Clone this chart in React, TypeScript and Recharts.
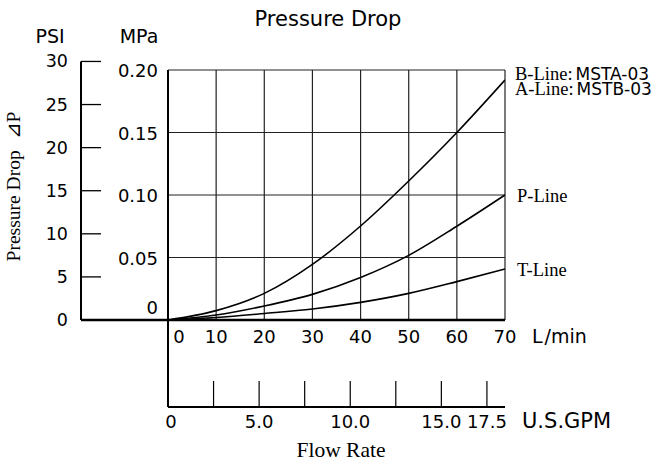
import React from 'react';
import { ComposedChart, Line, XAxis, YAxis, CartesianGrid, ReferenceLine, LabelList } from 'recharts';

// ---- data ----
const flowLpm = [0, 10, 20, 30, 40, 50, 60, 70];
const bLine = [0, 0.0075, 0.0213, 0.0445, 0.0752, 0.1112, 0.15, 0.192];
const pLine = [0, 0.004, 0.0112, 0.0205, 0.034, 0.0517, 0.075, 0.1];
const tLine = [0, 0.002, 0.0052, 0.0088, 0.0141, 0.0213, 0.0307, 0.0408];

const mpaTicks = [0, 0.05, 0.1, 0.15, 0.2];
const psiTicks = [0, 5, 10, 15, 20, 25, 30];
const lpmTicks = [0, 10, 20, 30, 40, 50, 60, 70];
const gpmTicks = [0, 2.5, 5, 7.5, 10, 12.5, 15, 17.5];
const gpmTickLabels = ['0', '', '5.0', '', '10.0', '', '15.0', '17.5'];

const bLabel = [['B-Line:', 'MSTA-03'], ['A-Line:', 'MSTB-03']];
const pLabel = [['P-Line', '']];
const tLabel = [['T-Line', '']];

// unit relations
const MPA_MAX = 0.2;
const PSI_PER_MPA = 145.0377;
const LPM_MAX = 70;
const LPM_PER_GPM = 3.785411784;

// ---- layout ----
const W = 656;
const H = 466;
const PSI_W = 81;
const MPA_W = 87;
const LPM_H = 87;
const GPM_H = 59;
const M_TOP = 70;
const M_RIGHT = 151;
const PLOT_W = W - PSI_W - MPA_W - M_RIGHT;
const PLOT_H = H - M_TOP - LPM_H - GPM_H;
const PSI_AXIS_AT_LPM = -(MPA_W / PLOT_W) * LPM_MAX;
const GPM_AXIS_AT_MPA = -(LPM_H / PLOT_H) * MPA_MAX;

const SANS = 'DejaVu Sans';
const SERIF = 'Liberation Serif';

const data = flowLpm.map((f, i) => ({
  lpm: f,
  gpm: f / LPM_PER_GPM,
  b: bLine[i],
  p: pLine[i],
  t: tLine[i],
}));

const PsiTick = (props: any) => {
  const { x, y, payload } = props;
  return (
    <g>
      <line x1={x} x2={x + 20} y1={y} y2={y} stroke="#000" strokeWidth={1.3} />
      <text x={x - 13} y={y} dy={6} textAnchor="end" fontFamily={SANS} fontSize={17.5} fill="#000">
        {payload.value}
      </text>
    </g>
  );
};

const MpaTick = (props: any) => {
  const { x, y, payload } = props;
  const v = payload.value as number;
  return (
    <text x={x - 10} y={y} dy={v === 0 ? -6 : 7} textAnchor="end" fontFamily={SANS} fontSize={18} fill="#000">
      {v === 0 ? '0' : v.toFixed(2)}
    </text>
  );
};

const LpmTick = (props: any) => {
  const { x, y, payload } = props;
  const v = payload.value as number;
  return (
    <text x={v === 0 ? x + 11 : x} y={y} dy={23} textAnchor="middle" fontFamily={SANS} fontSize={18} fill="#000">
      {v}
    </text>
  );
};

const GpmTick = (props: any) => {
  const { x, y, payload, index } = props;
  const v = payload.value as number;
  return (
    <g>
      {v !== 0 && <line x1={x} x2={x} y1={y} y2={y - 26} stroke="#000" strokeWidth={1.2} />}
      <text x={v === 0 ? x + 3 : x} y={y} dy={21} textAnchor="middle" fontFamily={SANS} fontSize={18} fill="#000">
        {gpmTickLabels[index]}
      </text>
    </g>
  );
};

const makeEndLabel = (lines: string[][], dyFirst: number, dx: number) => (props: any) => {
  const { x, y, index } = props;
  if (index !== data.length - 1) return null;
  return (
    <text x={x + dx} y={y + dyFirst} fontSize={18.5} fontFamily={SERIF} fill="#000">
      {lines.map((ln, i) => (
        <React.Fragment key={i}>
          <tspan x={x + dx} dy={i === 0 ? 0 : 15} fontFamily={SERIF}>{ln[0]}</tspan>
          {ln[1] ? (
            <tspan dx={3} fontFamily={SANS} fontSize={17}>{ln[1]}</tspan>
          ) : null}
        </React.Fragment>
      ))}
    </text>
  );
};

export default function App() {
  return (
    <div style={{ position: 'absolute', left: 0, top: 0, width: W, height: H, background: '#fff' }}>
      <ComposedChart
        width={W}
        height={H}
        data={data}
        margin={{ top: M_TOP, right: M_RIGHT, bottom: 0, left: 0 }}
      >
        <CartesianGrid xAxisId="x1" yAxisId="y1" stroke="#222" strokeWidth={1.2} fill="none" />
        <XAxis
          xAxisId="x1"
          dataKey="lpm"
          type="number"
          domain={[0, LPM_MAX]}
          ticks={lpmTicks}
          interval={0}
          allowDataOverflow
          height={LPM_H}
          tickSize={0}
          tickMargin={0}
          tickLine={false}
          axisLine={{ stroke: '#000', strokeWidth: 2.5 }}
          tick={<LpmTick />}
        />
        <XAxis
          xAxisId="x2"
          dataKey="gpm"
          type="number"
          domain={[0, LPM_MAX / LPM_PER_GPM]}
          ticks={gpmTicks}
          interval={0}
          allowDataOverflow
          height={GPM_H}
          tickSize={0}
          tickMargin={0}
          tickLine={false}
          axisLine={{ stroke: '#000', strokeWidth: 2 }}
          tick={<GpmTick />}
        />
        <YAxis
          yAxisId="y1"
          type="number"
          domain={[0, MPA_MAX]}
          ticks={mpaTicks}
          interval={0}
          allowDataOverflow
          width={MPA_W}
          tickSize={0}
          tickMargin={0}
          tickLine={false}
          axisLine={{ stroke: '#000', strokeWidth: 2 }}
          tick={<MpaTick />}
        />
        <YAxis
          yAxisId="y2"
          type="number"
          domain={[0, MPA_MAX * PSI_PER_MPA]}
          ticks={psiTicks}
          interval={0}
          allowDataOverflow
          width={PSI_W}
          tickSize={0}
          tickMargin={0}
          tickLine={false}
          axisLine={false}
          tick={<PsiTick />}
        />
        <ReferenceLine
          xAxisId="x1"
          yAxisId="y1"
          ifOverflow="visible"
          segment={[{ x: PSI_AXIS_AT_LPM, y: 0 }, { x: 0, y: 0 }]}
          stroke="#000"
          strokeWidth={2.5}
        />
        <ReferenceLine
          xAxisId="x1"
          yAxisId="y2"
          ifOverflow="visible"
          segment={[{ x: PSI_AXIS_AT_LPM, y: 0 }, { x: PSI_AXIS_AT_LPM, y: 30 }]}
          stroke="#000"
          strokeWidth={2}
        />
        <ReferenceLine
          xAxisId="x1"
          yAxisId="y1"
          ifOverflow="visible"
          segment={[{ x: 0, y: 0 }, { x: 0, y: GPM_AXIS_AT_MPA }]}
          stroke="#000"
          strokeWidth={2}
        />
        <Line xAxisId="x1" yAxisId="y1" dataKey="b" type="monotone" stroke="#000" strokeWidth={1.6} dot={false} isAnimationActive={false}>
          <LabelList dataKey="b" content={makeEndLabel(bLabel, 0, 10)} />
        </Line>
        <Line xAxisId="x1" yAxisId="y1" dataKey="p" type="monotone" stroke="#000" strokeWidth={1.6} dot={false} isAnimationActive={false}>
          <LabelList dataKey="p" content={makeEndLabel(pLabel, 7, 12)} />
        </Line>
        <Line xAxisId="x1" yAxisId="y1" dataKey="t" type="monotone" stroke="#000" strokeWidth={1.6} dot={false} isAnimationActive={false}>
          <LabelList dataKey="t" content={makeEndLabel(tLabel, 7, 12)} />
        </Line>

        <text x={328} y={26} textAnchor="middle" fontFamily={SANS} fontSize={21} fill="#000">Pressure Drop</text>
        <text x={50} y={43} textAnchor="middle" fontFamily={SANS} fontSize={19} fill="#000">PSI</text>
        <text x={139} y={43} textAnchor="middle" fontFamily={SANS} fontSize={19} fill="#000">MPa</text>
        <text x={532} y={343} fontFamily={SANS} fontSize={19} fill="#000">
          L<tspan dx={2}>/min</tspan>
        </text>
        <text x={522} y={428} fontFamily={SANS} fontSize={21} fill="#000">U.S.GPM</text>
        <text x={341} y={457} textAnchor="middle" fontFamily={SERIF} fontSize={21.5} fill="#000">Flow Rate</text>
        <text
          x={0}
          y={0}
          transform="translate(20 186.5) rotate(-90)"
          textAnchor="middle"
          fontFamily={SERIF}
          fontSize={19.5}
          fill="#000"
        >
          Pressure Drop<tspan dx={6}> ⊿P</tspan>
        </text>
      </ComposedChart>
    </div>
  );
}
